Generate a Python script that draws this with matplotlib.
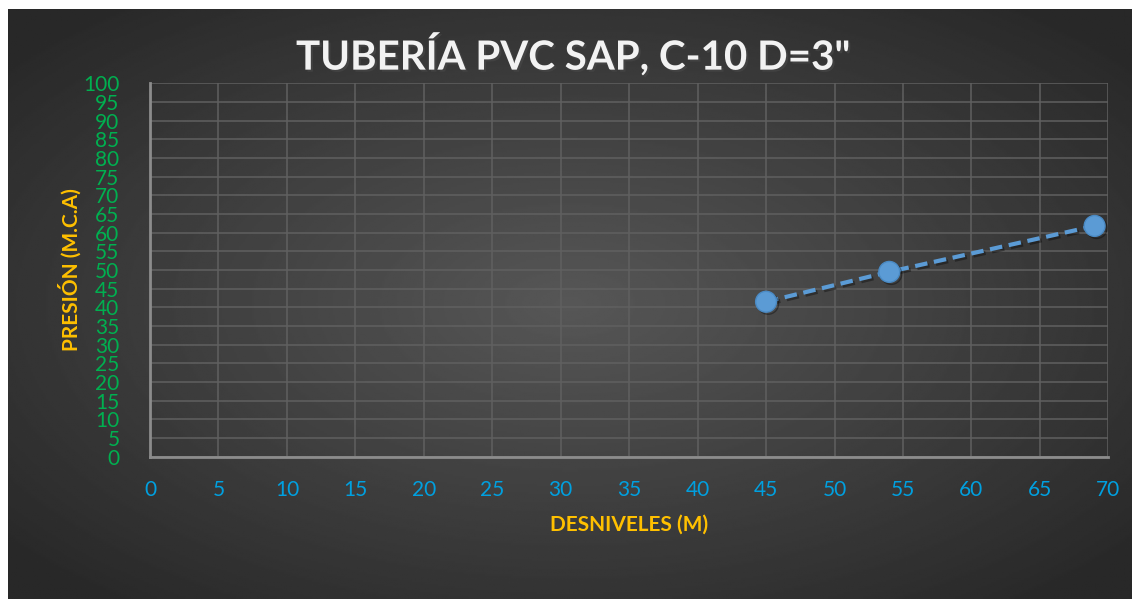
import matplotlib
matplotlib.use("Agg")
import matplotlib.pyplot as plt
import matplotlib.patheffects as pe
import numpy as np

# data
desniveles = [45, 54, 69]
presion = [41.5, 49.5, 61.8]
xticks = list(range(0, 75, 5))
yticks = list(range(0, 105, 5))

plt.rcParams['font.family'] = ['Lato', 'DejaVu Sans']

fig = plt.figure(figsize=(11.34, 6.01), dpi=100)
fig.patch.set_facecolor('white')

# dark radial background of the chart area
bg = fig.add_axes([8/1134, 2/601, 1124/1134, 590/601])
bg.set_axis_off()
yy, xx = np.mgrid[-1:1:300j, -1:1:600j]
r = np.sqrt(xx**2 + yy**2)
shade = 0.34 - 0.18*np.clip(r/1.3, 0, 1)
bg.imshow(shade, cmap='gray', vmin=0, vmax=1, aspect='auto', extent=[0, 1, 0, 1])
bg.set_xlim(0, 1)
bg.set_ylim(0, 1)

ax = fig.add_axes([150/1134, 1-456.7/601, 958.3/1134, 373.4/601])
ax.patch.set_alpha(0)

ax.plot(desniveles, presion, color='#5B9BD5', lw=3, ls=(0, (3, 1.6)), zorder=3,
        marker='o', ms=15, mfc='#5B9BD5', mec='#4a8ac4', mew=1,
        path_effects=[pe.SimpleLineShadow(offset=(1.5, -1.5), alpha=0.35), pe.Normal()])

ax.set_xlim(0, 70)
ax.set_ylim(0, 100)
ax.set_xticks(xticks)
ax.set_yticks(yticks)
ax.grid(True, color='#606060', lw=1.1)
ax.set_axisbelow(True)
for s in ['top', 'right']:
    ax.spines[s].set_visible(False)
for s in ['left', 'bottom']:
    ax.spines[s].set_color('#8c8c8c')
    ax.spines[s].set_linewidth(2)
ax.tick_params(axis='y', length=0, pad=22, labelsize=15, labelcolor='#00B050')
ax.tick_params(axis='x', length=0, pad=17, labelsize=15, labelcolor='#00A0E0')

ax.set_xlabel('DESNIVELES (M)', color='#FFC000', fontsize=15, fontweight='bold', labelpad=10)
ax.set_ylabel('PRESIÓN (M.C.A)', color='#FFC000', fontsize=15, fontweight='bold', labelpad=0)
ax.yaxis.set_label_coords(-68/958.3, 0.5)

fig.text(573/1134, 1-55/601, 'TUBERÍA PVC SAP, C-10 D=3"',
         ha='center', va='center', color='#F2F2F2', fontsize=29, fontweight='bold',
         path_effects=[pe.withSimplePatchShadow(offset=(1.5, -1.5), alpha=0.6)])

fig.savefig('out.png', dpi=100)
